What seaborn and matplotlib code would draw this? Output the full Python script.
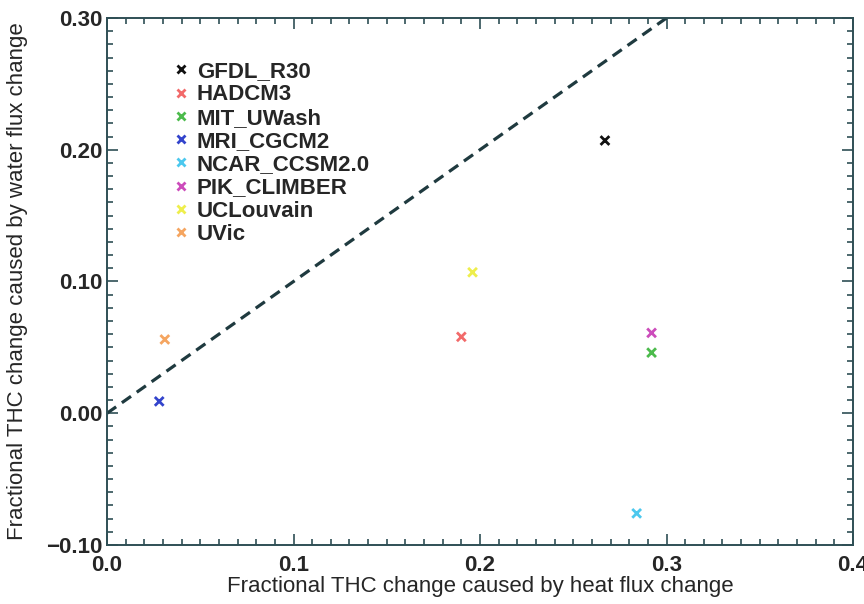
import matplotlib
matplotlib.use("Agg")
import matplotlib.pyplot as plt
from matplotlib.ticker import MultipleLocator, FuncFormatter
import seaborn as sns
import pandas as pd

models = ["GFDL_R30", "HADCM3", "MIT_UWash", "MRI_CGCM2", "NCAR_CCSM2.0",
          "PIK_CLIMBER", "UCLouvain", "UVic"]
heat_flux = [0.267, 0.190, 0.292, 0.028, 0.284, 0.292, 0.196, 0.031]
water_flux = [0.207, 0.058, 0.046, 0.009, -0.076, 0.061, 0.107, 0.056]
colors = ["#111111", "#f26a6a", "#4cbb4c", "#3344cc", "#4cc8ee",
          "#cc4cbb", "#eeee4c", "#f5a560"]
diag_x = [0.0, 0.3]
diag_y = [0.0, 0.3]

df = pd.DataFrame({"model": models, "heat": heat_flux, "water": water_flux})

sns.set_theme(style="white")
plt.rcParams["font.family"] = ["Liberation Sans", "DejaVu Sans"]

fig = plt.figure(figsize=(8.64, 6.04), dpi=100)
ax = fig.add_axes([107 / 864, 1 - 545 / 604, (853 - 107) / 864, (545 - 18) / 604])

ax.plot(diag_x, diag_y, linestyle=(0, (3.5, 2.2)), color="#1f3a3f", lw=2.3)

sns.scatterplot(data=df, x="heat", y="water", hue="model", hue_order=models,
                palette=dict(zip(models, colors)), marker="x", s=40,
                linewidth=2, ax=ax, legend=True, zorder=3)

ax.set_xlim(0.0, 0.4)
ax.set_ylim(-0.10, 0.30)
ax.xaxis.set_major_locator(MultipleLocator(0.1))
ax.xaxis.set_minor_locator(MultipleLocator(0.01))
ax.yaxis.set_major_locator(MultipleLocator(0.1))
ax.yaxis.set_minor_locator(MultipleLocator(0.01))
ax.xaxis.set_major_formatter(FuncFormatter(lambda v, p: f"{v:.1f}".replace("-", "\u2212")))
ax.yaxis.set_major_formatter(FuncFormatter(lambda v, p: f"{v:.2f}".replace("-", "\u2212")))
ax.tick_params(which="both", direction="in", bottom=True, left=True,
               top=True, right=True, color="#2f4f55", width=1.2)
ax.tick_params(which="major", length=8, labelsize=16)
ax.tick_params(which="minor", length=4.5)
ax.tick_params(axis="x", which="major", pad=7)
ax.tick_params(axis="y", which="major", pad=3)
for lab in ax.get_xticklabels() + ax.get_yticklabels():
    lab.set_fontweight("bold")
for sp in ax.spines.values():
    sp.set_color("#2f4f55")
    sp.set_linewidth(1.4)

ax.set_xlabel("Fractional THC change caused by heat flux change", fontsize=16,
              labelpad=0)
ax.set_ylabel("Fractional THC change caused by water flux change", fontsize=16,
              labelpad=13)

leg = ax.legend(loc="upper left", bbox_to_anchor=(0.055, 0.956), frameon=False,
                fontsize=16, handletextpad=0.1, labelspacing=0.1,
                markerscale=0.8, handlelength=1.2)
for t in leg.get_texts():
    t.set_fontweight("bold")

fig.savefig("out.png", dpi=100)
